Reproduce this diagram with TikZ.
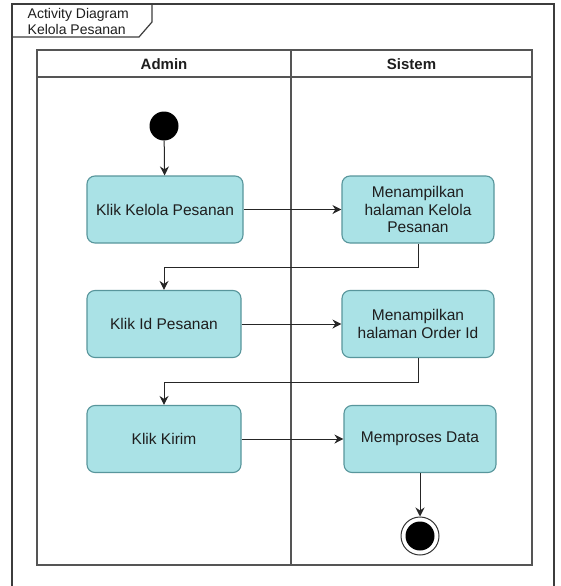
\documentclass[tikz,border=0pt]{standalone}
\usepackage{fontspec}
\setmainfont{Liberation Sans}
\usetikzlibrary{arrows.meta}

\definecolor{actfill}{RGB}{170,226,230}
\definecolor{actborder}{RGB}{88,150,156}
\definecolor{frameline}{RGB}{60,60,60}
\definecolor{laneline}{RGB}{85,85,85}
\definecolor{txt}{RGB}{30,30,30}

\tikzset{
  activity/.style={draw=actborder, fill=actfill, line width=1.1pt, rounded corners=8pt,
    minimum height=67pt, align=center, text=txt,
    font=\fontsize{15.5pt}{17.5pt}\selectfont},
  flow/.style={draw=black!85, line width=1pt, -{Stealth[length=9pt,width=9pt]}},
  lane/.style={draw=laneline, line width=1.2pt},
  frame/.style={draw=frameline, line width=1.2pt},
  lanehead/.style={font=\fontsize{15pt}{17.5pt}\selectfont\bfseries, text=txt},
}

\begin{document}
\begin{tikzpicture}[x=1pt,y=-1pt]
  \useasboundingbox[fill=white] (0,0) rectangle (561,586);

  % diagram frame and its name tab
  \draw[frame] (12,586) -- (12,4) -- (554,4) -- (554,586);
  \draw[frame] (152,4) -- (152,22) -- (139,37) -- (12,37);
  \node[anchor=north west, align=left, inner sep=0pt, text=txt,
        font=\fontsize{14pt}{16pt}\selectfont] (tab) at (27.5,8)
        {Activity Diagram\\Kelola Pesanan};

  % swimlanes
  \draw[lane] (37,50) rectangle (532,565);
  \draw[lane] (37,77) -- (532,77);
  \draw[lane] (291,50) -- (291,565);
  \node[lanehead] (hadmin) at (164,64) {Admin};
  \node[lanehead] (hsistem) at (411.5,64) {Sistem};

  % start and end
  \node[circle, fill=black, minimum size=29pt, inner sep=0pt] (start) at (164,126) {};
  \node[circle, draw=black!80, line width=1pt, fill=white, minimum size=38pt, inner sep=0pt] (stop) at (420,536) {};
  \node[circle, fill=black, minimum size=29pt, inner sep=0pt] (stopdot) at (stop) {};

  % activities
  \node[activity, minimum width=156pt] (a1) at (165,209.5) {Klik Kelola Pesanan};
  \node[activity, minimum width=152pt] (s1) at (418,209.5) {Menampilkan\\halaman Kelola\\Pesanan};
  \node[activity, minimum width=154pt] (a2) at (164,324) {Klik Id Pesanan};
  \node[activity, minimum width=152pt] (s2) at (418,324) {Menampilkan\\halaman Order Id};
  \node[activity, minimum width=154pt] (a3) at (164,439) {Klik Kirim};
  \node[activity, minimum width=152pt] (s3) at (420,439) {Memproses Data};

  % control flow
  \draw[flow] (start) -- (a1);
  \draw[flow] (a1) -- (s1);
  \draw[flow] (s1.south) -- ++(0,24) -| (a2.north);
  \draw[flow] (a2) -- (s2);
  \draw[flow] (s2.south) -- ++(0,24) -| (a3.north);
  \draw[flow] (a3) -- (s3);
  \draw[flow] (s3) -- (stop);
\end{tikzpicture}
\end{document}
